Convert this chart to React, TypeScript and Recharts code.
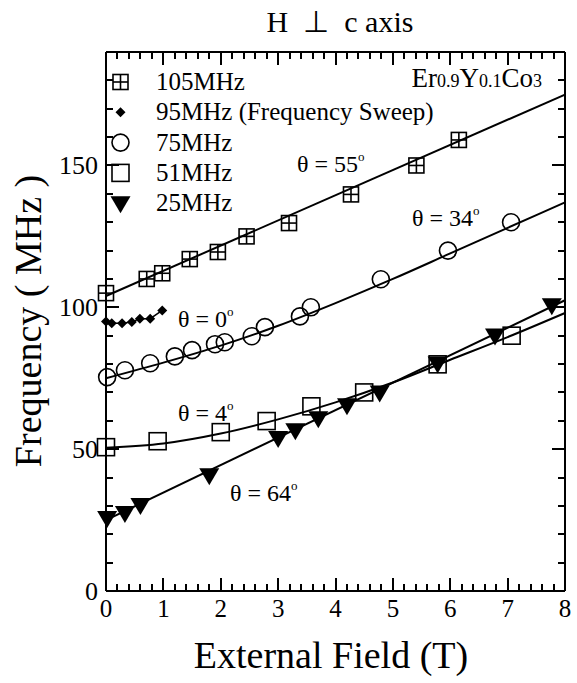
import { ComposedChart, Line, Scatter, XAxis, YAxis } from "recharts";

// field (T) / frequency (MHz)
const x105 = [0, 0.71, 0.98, 1.46, 1.95, 2.45, 3.19, 4.27, 5.41, 6.15];
const y105 = [105, 110, 112, 117, 119.5, 125, 129.7, 139.8, 150, 159];

const x95 = [0, 0.1, 0.28, 0.45, 0.59, 0.77, 0.98];
const y95 = [95, 94.4, 94.4, 94.8, 96, 96, 98.9];

const x75 = [0.02, 0.33, 0.77, 1.2, 1.5, 1.9, 2.07, 2.54, 2.77, 3.38, 3.57, 4.79, 5.96, 7.06];
const y75 = [75.4, 77.8, 80.3, 82.7, 84.9, 87, 87.7, 89.8, 93, 96.8, 100, 109.9, 120, 130];

const x51 = [0, 0.9, 2.0, 2.8, 3.58, 4.5, 5.78, 7.07];
const y51 = [50.7, 52.8, 56, 59.9, 65.1, 70, 79.9, 90];

const x25 = [0.02, 0.33, 0.6, 1.8, 3.0, 3.3, 3.7, 4.2, 4.77, 5.78, 6.78, 7.77];
const y25 = [25.7, 27.5, 30.3, 40.8, 53.9, 56.7, 60.9, 65.5, 70, 80.2, 90.1, 100.7];

// fitted curves as drawn in the figure
const fitX105 = [0, 8];
const fitY105 = [104, 175];
const fitX75 = [0, 1, 2, 3, 4, 5, 6, 7, 8];
const fitY75 = [75, 80.5, 86.5, 93.5, 101.5, 110, 119, 128, 137];
const fitX51 = [0, 1, 2, 3, 4, 5, 6, 7, 8];
const fitY51 = [50.5, 52, 55.5, 60.5, 66.5, 73.5, 81.5, 89.5, 98];
const fitX25 = [0, 8];
const fitY25 = [25, 102.5];

const X_MAX = 8;
const Y_MAX = 190;

const zip = (xs: number[], ys: number[]) => xs.map((x, i) => ({ x, y: ys[i] }));

const xTicks = Array.from({ length: 41 }, (_, i) => Math.round(i * 2) / 10);
const yTicks = Array.from({ length: 19 }, (_, i) => i * 10);

const FONT = "Liberation Serif";
const INK = "#000";

// plot box (matches the chart margins below)
const W = 577;
const H = 683;
const M = { top: 51, right: 11, bottom: 91, left: 105 };
const PL = M.left + 1;
const PR = W - M.right - 1;
const PT = M.top + 1;
const PB = H - M.bottom - 1;

function SqCross({ cx, cy }: any) {
  const h = 7.5;
  return (
    <g stroke={INK} strokeWidth={1.6} fill="none">
      <rect x={cx - h} y={cy - h} width={2 * h} height={2 * h} />
      <line x1={cx - h} x2={cx + h} y1={cy} y2={cy} />
      <line x1={cx} x2={cx} y1={cy - h} y2={cy + h} />
    </g>
  );
}

function Diamond({ cx, cy }: any) {
  const h = 5;
  return <path d={`M${cx},${cy - h}L${cx + h},${cy}L${cx},${cy + h}L${cx - h},${cy}Z`} fill={INK} />;
}

function Ring({ cx, cy }: any) {
  return <circle cx={cx} cy={cy} r={8.5} fill="none" stroke={INK} strokeWidth={1.6} />;
}

function Sq({ cx, cy }: any) {
  const h = 8.5;
  return <rect x={cx - h} y={cy - h} width={2 * h} height={2 * h} fill="none" stroke={INK} strokeWidth={1.6} />;
}

function TriDown({ cx, cy }: any) {
  return <path d={`M${cx - 10},${cy - 7}L${cx + 10},${cy - 7}L${cx},${cy + 10}Z`} fill={INK} />;
}

const isMajor = (v: number, step: number) => Math.abs(v / step - Math.round(v / step)) < 1e-6;

function BottomTick({ x, y, payload }: any) {
  const v = payload.value;
  if (!isMajor(v, 1)) return <g />;
  return (
    <text x={x} y={y + 26} textAnchor="middle" fontSize={25} fontFamily={FONT} fill={INK}>
      {Math.round(v)}
    </text>
  );
}

function LeftTick({ x, y, payload }: any) {
  const v = payload.value;
  if (!isMajor(v, 50)) return <g />;
  return (
    <text x={x - 8} y={y + 9} textAnchor="end" fontSize={26} fontFamily={FONT} fill={INK}>
      {v}
    </text>
  );
}

// inward tick marks on all four sides of the frame, pixel-snapped
function FrameTicks() {
  const sx = (v: number) => Math.round(PL + (v / X_MAX) * (PR - PL));
  const sy = (v: number) => Math.round(PB - (v / Y_MAX) * (PB - PT));
  const marks: JSX.Element[] = [];
  xTicks.forEach((v, i) => {
    const len = isMajor(v, 1) ? 13 : 7;
    const px = sx(v) - 1;
    marks.push(<rect key={`b${i}`} x={px} y={PB - len} width={2} height={len} fill={INK} />);
    marks.push(<rect key={`t${i}`} x={px} y={PT} width={2} height={len} fill={INK} />);
  });
  yTicks.forEach((v, i) => {
    const len = isMajor(v, 50) ? 13 : 7;
    const py = sy(v) - 1;
    marks.push(<rect key={`l${i}`} x={PL} y={py} width={len} height={2} fill={INK} />);
    marks.push(<rect key={`r${i}`} x={PR - len} y={py} width={len} height={2} fill={INK} />);
  });
  return <g>{marks}</g>;
}

const legendRows = [
  { label: "105MHz", Shape: SqCross },
  { label: "95MHz (Frequency Sweep)", Shape: Diamond },
  { label: "75MHz", Shape: Ring },
  { label: "51MHz", Shape: Sq },
  { label: "25MHz", Shape: TriDown },
];

function Deg({ text, x, y }: { text: string; x: number; y: number }) {
  return (
    <text x={x} y={y} fontSize={24} fontFamily={FONT} fill={INK}>
      {text}
      <tspan fontSize={13} dy={-11}>o</tspan>
    </text>
  );
}

export default function App() {
  const axisLine = { stroke: INK, strokeWidth: 2 };
  return (
    <div style={{ position: "absolute", left: 0, top: 0, width: W, height: H }}>
      <ComposedChart width={W} height={H} margin={M}>
        <XAxis xAxisId="b" dataKey="x" type="number" domain={[0, X_MAX]} ticks={xTicks} interval={0} height={1} tickSize={0} tickMargin={0} tickLine={false} axisLine={axisLine} tick={<BottomTick />} />
        <XAxis xAxisId="t" orientation="top" dataKey="x" type="number" domain={[0, X_MAX]} height={1} tick={false} tickLine={false} axisLine={axisLine} />
        <YAxis yAxisId="l" dataKey="y" type="number" domain={[0, Y_MAX]} ticks={yTicks} interval={0} width={1} tickSize={0} tickMargin={0} tickLine={false} axisLine={axisLine} tick={<LeftTick />} />
        <YAxis yAxisId="r" orientation="right" dataKey="y" type="number" domain={[0, Y_MAX]} width={1} tick={false} tickLine={false} axisLine={axisLine} />
        <Line xAxisId="t" yAxisId="r" data={zip(fitX105, fitY105)} dataKey="y" type="linear" stroke="none" dot={false} isAnimationActive={false} />

        <Line xAxisId="b" yAxisId="l" data={zip(fitX105, fitY105)} dataKey="y" type="linear" stroke={INK} strokeWidth={2} dot={false} isAnimationActive={false} />
        <Line xAxisId="b" yAxisId="l" data={zip(fitX75, fitY75)} dataKey="y" type="monotone" stroke={INK} strokeWidth={2} dot={false} isAnimationActive={false} />
        <Line xAxisId="b" yAxisId="l" data={zip(fitX51, fitY51)} dataKey="y" type="monotone" stroke={INK} strokeWidth={2} dot={false} isAnimationActive={false} />
        <Line xAxisId="b" yAxisId="l" data={zip(fitX25, fitY25)} dataKey="y" type="linear" stroke={INK} strokeWidth={2} dot={false} isAnimationActive={false} />
        <Line xAxisId="b" yAxisId="l" data={zip(x95, y95)} dataKey="y" type="linear" stroke={INK} strokeWidth={1.5} dot={<Diamond />} isAnimationActive={false} />

        <Scatter xAxisId="b" yAxisId="l" data={zip(x105, y105)} dataKey="y" shape={<SqCross />} isAnimationActive={false} />
        <Scatter xAxisId="b" yAxisId="l" data={zip(x75, y75)} dataKey="y" shape={<Ring />} isAnimationActive={false} />
        <Scatter xAxisId="b" yAxisId="l" data={zip(x51, y51)} dataKey="y" shape={<Sq />} isAnimationActive={false} />
        <Scatter xAxisId="b" yAxisId="l" data={zip(x25, y25)} dataKey="y" shape={<TriDown />} isAnimationActive={false} />
      </ComposedChart>

      <svg width={W} height={H} style={{ position: "absolute", left: 0, top: 0, pointerEvents: "none" }}>
        <FrameTicks />

        <text x={340} y={32} textAnchor="middle" fontSize={30} fontFamily={FONT} fill={INK} style={{ whiteSpace: "pre" }}>
          {"H  \u22A5  c axis"}
        </text>
        <text x={331} y={668} textAnchor="middle" fontSize={38} fontFamily={FONT} fill={INK}>
          External Field (T)
        </text>
        <text x={41} y={321} textAnchor="middle" fontSize={38} fontFamily={FONT} fill={INK} transform="rotate(-90 41 321)">
          Frequency ( MHz )
        </text>

        <text x={542} y={87} textAnchor="end" fontFamily={FONT} fill={INK}>
          <tspan fontSize={27}>Er</tspan>
          <tspan fontSize={18}>0.9</tspan>
          <tspan fontSize={27}>Y</tspan>
          <tspan fontSize={18}>0.1</tspan>
          <tspan fontSize={27}>Co</tspan>
          <tspan fontSize={18}>3</tspan>
        </text>

        {legendRows.map(({ label, Shape }, i) => {
          const cy = 82 + i * 30.3;
          return (
            <g key={label}>
              <Shape cx={120.5} cy={cy} />
              <text x={156} y={cy + 8} fontSize={25} fontFamily={FONT} fill={INK}>
                {label}
              </text>
            </g>
          );
        })}

        <Deg text={"\u03B8 = 55"} x={297} y={172} />
        <Deg text={"\u03B8 = 34"} x={412} y={226} />
        <Deg text={"\u03B8 = 0"} x={178} y={327} />
        <Deg text={"\u03B8 = 4"} x={178} y={421} />
        <Deg text={"\u03B8 = 64"} x={230} y={501} />
      </svg>
    </div>
  );
}
